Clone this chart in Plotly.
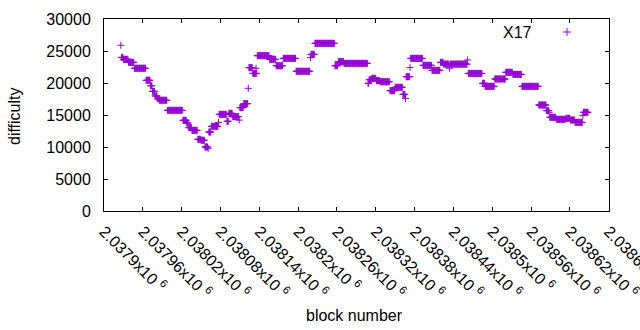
import numpy as np
import plotly.graph_objects as go

run_start = [2037926, 2037927, 2037930, 2037938, 2037947, 2037965, 2037972, 2037975, 2037979, 2037983,
             2037986, 2037998, 2038022, 2038028, 2038031, 2038036, 2038045, 2038050, 2038056, 2038061,
             2038062, 2038066, 2038077, 2038078, 2038090, 2038093, 2038099, 2038109, 2038110, 2038116,
             2038123, 2038124, 2038130, 2038135, 2038136, 2038137, 2038156, 2038166, 2038177, 2038197,
             2038219, 2038220, 2038226, 2038257, 2038262, 2038271, 2038308, 2038310, 2038314, 2038321,
             2038327, 2038342, 2038350, 2038362, 2038366, 2038367, 2038373, 2038374, 2038393, 2038407,
             2038420, 2038425, 2038434, 2038435, 2038462, 2038463, 2038485, 2038489, 2038504, 2038521,
             2038532, 2038546, 2038572, 2038584, 2038588, 2038589, 2038599, 2038614, 2038621, 2038628,
             2038640, 2038641]
run_end = [2037926, 2037929, 2037937, 2037946, 2037964, 2037971, 2037974, 2037978, 2037982, 2037985,
           2037997, 2038021, 2038027, 2038030, 2038035, 2038044, 2038049, 2038055, 2038060, 2038061,
           2038065, 2038076, 2038077, 2038089, 2038092, 2038098, 2038108, 2038109, 2038115, 2038122,
           2038123, 2038129, 2038134, 2038135, 2038136, 2038155, 2038165, 2038176, 2038196, 2038218,
           2038219, 2038225, 2038256, 2038261, 2038270, 2038307, 2038309, 2038313, 2038320, 2038326,
           2038341, 2038349, 2038361, 2038365, 2038366, 2038372, 2038373, 2038392, 2038406, 2038419,
           2038424, 2038433, 2038434, 2038461, 2038462, 2038484, 2038488, 2038503, 2038520, 2038531,
           2038545, 2038571, 2038583, 2038587, 2038588, 2038598, 2038613, 2038620, 2038627, 2038639,
           2038640, 2038648]
run_difficulty = [25900, 24000, 23700, 23230, 22300, 20420, 19580, 18700, 17970, 17550,
                  17300, 15730, 14170, 13750, 13020, 12600, 11200, 11050, 10000, 9800,
                  12340, 13230, 13850, 15100, 14020, 15260, 14740, 14200, 16150, 16770,
                  19170, 22400, 21500, 22300, 21500, 24270, 23700, 22700, 23850, 21830,
                  23960, 24480, 26200, 22700, 23330, 23070, 19950, 20520, 20730, 20360,
                  20200, 18800, 19330, 18230, 17600, 20990, 22400, 23850, 22760, 21980,
                  23230, 22950, 22300, 22950, 23600, 21500, 19950, 19480, 20630, 21670,
                  21350, 19480, 16560, 15680, 15420, 14640, 14330, 14480, 14220, 13850,
                  14900, 15420]

x_tickvals = [2037900 + 60 * k for k in range(14)]
x_ticktext = [f"{v / 1e6:g}x10 <sup>6</sup>" for v in x_tickvals]
y_tickvals = [0, 5000, 10000, 15000, 20000, 25000, 30000]
series_name = "X17"

blocks = np.concatenate([np.arange(s, e + 1) for s, e in zip(run_start, run_end)])
diffs = np.concatenate([np.full(e - s + 1, d) for s, e, d in zip(run_start, run_end, run_difficulty)])

COLOR = "#9400D3"
FONT = "Liberation Sans, Arial, sans-serif"

fig = go.Figure()
fig.add_trace(go.Scatter(
    x=blocks, y=diffs, mode="markers", name=series_name, showlegend=False,
    marker=dict(symbol="cross-thin", size=5, line=dict(width=1, color=COLOR), color=COLOR),
))

L, R, T, B = 104, 31, 19, 119
W, H = 640, 330
pw, ph = W - L - R, H - T - B

def px(xp):
    return (xp - L) / pw

def py(yp):
    return (H - B - yp) / ph

axis_common = dict(
    showline=True, linecolor="black", linewidth=1, mirror="ticks",
    ticks="inside", ticklen=4, tickwidth=1, tickcolor="black",
    showgrid=False, zeroline=False,
    tickfont=dict(family=FONT, size=16, color="black"),
)

fig.update_layout(
    width=W, height=H,
    margin=dict(l=L, r=R, t=T, b=B, autoexpand=False),
    paper_bgcolor="white", plot_bgcolor="white",
    font=dict(family=FONT, size=16, color="black"),
    xaxis=dict(range=[2037900, 2038680.5], tickmode="array", tickvals=x_tickvals,
               ticktext=x_ticktext, tickangle=45, ticklabelstandoff=4,
               ticklabeloverflow="allow", **axis_common),
    yaxis=dict(range=[0, 30000], tickmode="array", tickvals=y_tickvals,
               ticktext=[str(v) for v in y_tickvals], ticklabelstandoff=9, **axis_common),
    annotations=[
        dict(text="difficulty", xref="paper", yref="paper", x=px(15), y=py(116),
             textangle=-90, showarrow=False, xanchor="center", yanchor="middle",
             font=dict(family=FONT, size=16)),
        dict(text="block number", xref="paper", yref="paper", x=px(354), y=py(315),
             showarrow=False, xanchor="center", yanchor="middle",
             font=dict(family=FONT, size=16)),
        dict(text=series_name, xref="paper", yref="paper", x=px(534), y=py(32),
             showarrow=False, xanchor="right", yanchor="middle",
             font=dict(family=FONT, size=16)),
    ],
    shapes=[
        dict(type="line", xref="paper", yref="paper", x0=px(563), x1=px(571), y0=py(32), y1=py(32),
             line=dict(color=COLOR, width=1)),
        dict(type="line", xref="paper", yref="paper", x0=px(567), x1=px(567), y0=py(28), y1=py(36),
             line=dict(color=COLOR, width=1)),
    ],
)

fig.write_html("out.html", post_script="document.body.style.margin='0';",
               config={"displayModeBar": False})
